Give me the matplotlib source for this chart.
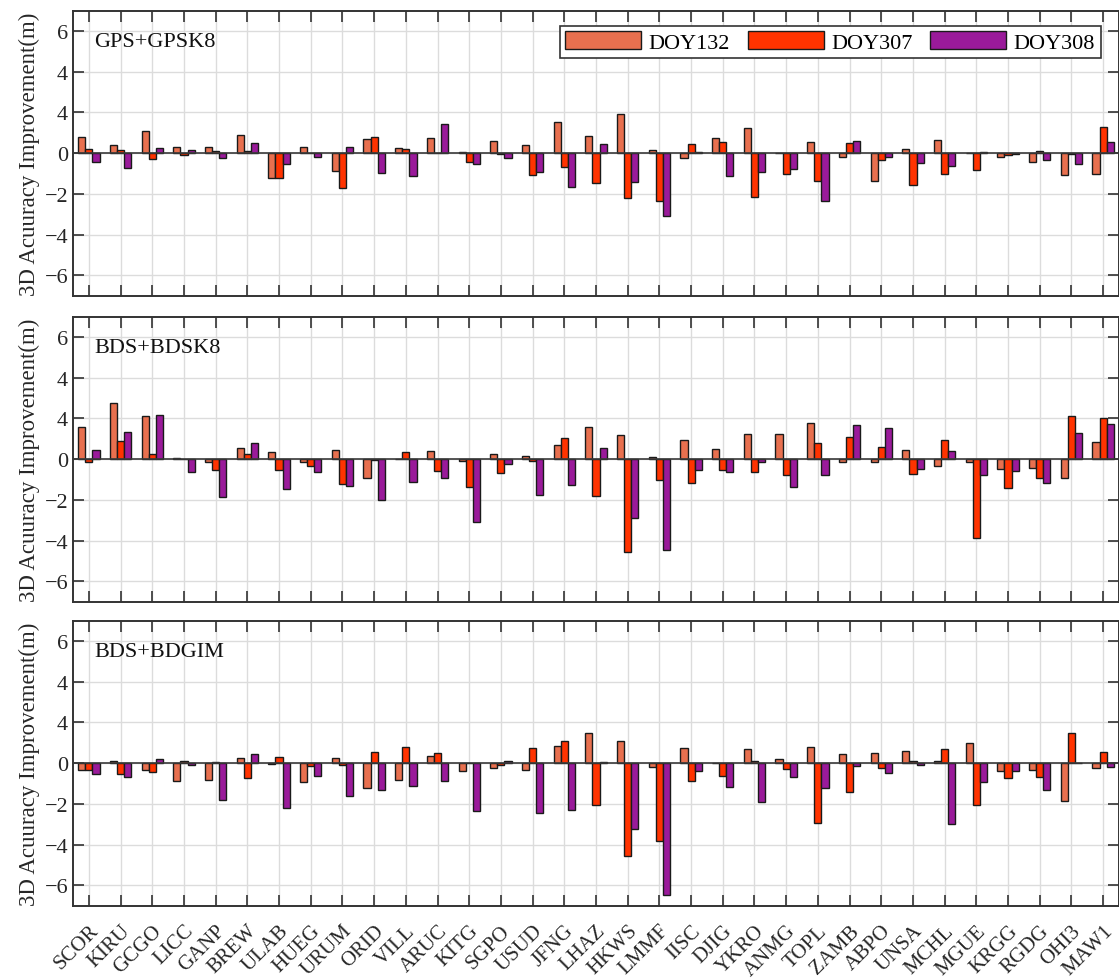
import numpy as np
import matplotlib
matplotlib.use('Agg')
import matplotlib.pyplot as plt

plt.rcParams['font.family'] = ['Liberation Serif', 'DejaVu Serif']

stations = ['SCOR', 'KIRU', 'GCGO', 'LICC', 'GANP', 'BREW', 'ULAB', 'HUEG', 'URUM',
            'ORID', 'VILL', 'ARUC', 'KITG', 'SGPO', 'USUD', 'JFNG', 'LHAZ', 'HKWS',
            'LMMF', 'IISC', 'DJIG', 'YKRO', 'ANMG', 'TOPL', 'ZAMB', 'ABPO', 'UNSA',
            'MCHL', 'MGUE', 'KRGG', 'RGDG', 'OHI3', 'MAW1']

days = ['DOY132', 'DOY307', 'DOY308']
panel_names = ['GPS+GPSK8', 'BDS+BDSK8', 'BDS+BDGIM']

# GPS+GPSK8
gps_k8_132 = [0.79, 0.38, 1.08, 0.31, 0.30, 0.90, -1.23, 0.30, -0.87, 0.71, 0.28,
              0.74, 0.07, 0.59, 0.38, 1.51, 0.84, 1.95, 0.16, -0.23, 0.76, 1.25,
              0.03, 0.54, -0.18, -1.35, 0.21, 0.66, 0.02, -0.21, -0.44, -1.08, -1.03]
gps_k8_307 = [0.21, 0.16, -0.30, -0.07, 0.10, 0.13, -1.20, 0.03, -1.69, 0.79, 0.21,
              0.0, -0.44, -0.05, -1.07, -0.69, -1.48, -2.20, -2.33, 0.46, 0.54, -2.15,
              -1.03, -1.36, 0.51, -0.33, -1.56, -1.02, -0.82, -0.08, 0.13, -0.03, 1.31]
gps_k8_308 = [-0.44, -0.72, 0.28, 0.15, -0.23, 0.48, -0.53, -0.21, 0.30, -0.99, -1.10,
              1.41, -0.54, -0.26, -0.90, -1.66, 0.43, -1.40, -3.09, 0.07, -1.10, -0.94,
              -0.79, -2.35, 0.61, -0.21, -0.48, -0.61, 0.05, -0.05, -0.31, -0.53, 0.54]

# BDS+BDSK8
bds_k8_132 = [1.56, 2.77, 2.10, 0.05, -0.13, 0.54, 0.33, -0.15, 0.43, -0.93, 0.0,
              0.41, -0.11, 0.28, 0.15, 0.72, 1.59, 1.20, 0.11, 0.93, 0.52, 1.26,
              1.25, 1.79, -0.13, -0.13, 0.44, -0.31, -0.15, -0.46, -0.43, -0.90, 0.85]
bds_k8_307 = [-0.13, 0.90, 0.25, 0.0, -0.52, 0.26, -0.54, -0.33, -1.23, -0.03, 0.33,
              -0.57, -1.39, -0.69, -0.11, 1.03, -1.82, -4.56, -1.02, -1.16, -0.52, -0.64,
              -0.79, 0.79, 1.10, 0.62, -0.74, 0.95, -3.87, -1.41, -0.93, 2.11, 2.00]
bds_k8_308 = [0.43, 1.33, 2.16, -0.64, -1.84, 0.82, -1.48, -0.64, -1.33, -2.02, -1.10,
              -0.93, -3.10, -0.25, -1.75, -1.25, 0.54, -2.90, -4.44, -0.52, -0.64, -0.13,
              -1.36, -0.79, 1.66, 1.51, -0.48, 0.39, -0.77, -0.57, -1.15, 1.30, 1.72]

# BDS+BDGIM
bds_gim_132 = [-0.34, 0.11, -0.31, -0.87, -0.84, 0.28, -0.05, -0.90, 0.25, -1.21, -0.82,
               0.36, -0.39, -0.23, -0.31, 0.85, 1.49, 1.07, -0.21, 0.77, 0.0, 0.70,
               0.20, 0.82, 0.43, 0.48, 0.62, 0.11, 0.97, -0.38, -0.34, -1.87, -0.26]
bds_gim_307 = [-0.34, -0.54, -0.43, 0.13, 0.07, -0.72, 0.30, -0.15, -0.10, 0.54, 0.82,
               0.51, 0.0, -0.10, 0.77, 1.11, -2.07, -4.57, -3.80, -0.85, -0.62, 0.10,
               -0.30, -2.93, -1.43, -0.23, 0.11, 0.69, -2.05, -0.74, -0.66, 1.46, 0.56]
bds_gim_308 = [-0.54, -0.67, 0.23, -0.11, -1.79, 0.44, -2.18, -0.62, -1.61, -1.33, -1.13,
               -0.89, -2.33, 0.11, -2.43, -2.30, 0.05, -3.21, -6.48, -0.36, -1.16, -1.93,
               -0.67, -1.20, -0.15, -0.48, -0.11, -2.98, -0.93, -0.36, -1.33, 0.0, -0.18]

yticks = [-6, -4, -2, 0, 2, 4, 6]
ytick_labels = ['\u22126', '\u22124', '\u22122', '0', '4', '4', '6']

colors = ['#E8704F', '#FF3300', '#9A1A9A']

panels = [
    [gps_k8_132, gps_k8_307, gps_k8_308],
    [bds_k8_132, bds_k8_307, bds_k8_308],
    [bds_gim_132, bds_gim_307, bds_gim_308],
]

fig = plt.figure(figsize=(11.19, 9.79), dpi=100)

left = 73 / 1119
width = 1 - left
bottoms = [1 - 296.7 / 979, 1 - 602.7 / 979, 1 - 906.7 / 979]
height = 285 / 979

x = np.arange(1, len(stations) + 1)
bw = 0.225
offsets = [-bw, 0, bw]

for p, series in enumerate(panels):
    ax = fig.add_axes([left, bottoms[p], width, height])
    ax.set_axisbelow(True)
    for k in range(3):
        ax.bar(x + offsets[k], series[k], bw, color=colors[k],
               edgecolor='#1a1a1a', linewidth=1.0, label=days[k], zorder=3)
    ax.axhline(0, color='#3a3a3a', linewidth=1.2, zorder=4)

    ax.set_xlim(0.5, len(stations) + 0.5)
    ax.set_ylim(-7, 7)
    ax.set_yticks(yticks)
    ax.set_yticklabels(ytick_labels, fontsize=16, color='#262626')
    ax.set_xticks(x)
    if p == 2:
        ax.set_xticklabels(stations, rotation=45, ha='right', rotation_mode='anchor',
                           fontsize=15, color='#262626')
    else:
        ax.set_xticklabels([])
    ax.tick_params(direction='in', length=8, width=1.2, top=True, right=True,
                   color='#333333')
    ax.tick_params(axis='x', pad=11)
    ax.grid(True, color='#dcdcdc', linewidth=1.0)
    for s in ax.spines.values():
        s.set_color('#333333')
        s.set_linewidth(1.4)

    ax.set_ylabel('3D Acuuracy Improvement(m)', fontsize=16.5, color='#262626',
                  labelpad=3)
    ax.text(0.02, 0.892, panel_names[p], transform=ax.transAxes, fontsize=16,
            va='center', ha='left', color='#111111')

    if p == 0:
        leg = ax.legend(loc='upper right', bbox_to_anchor=(0.9825, 0.948), ncol=3,
                        fontsize=16, handlelength=3.4, handleheight=0.85,
                        columnspacing=0.8, handletextpad=0.35, borderpad=0.25,
                        borderaxespad=0, fancybox=False, framealpha=1)
        leg.get_frame().set_edgecolor('#333333')
        leg.get_frame().set_linewidth(1.2)
        for h in leg.legend_handles:
            h.set_edgecolor('#1a1a1a')

plt.savefig('out.png', dpi=100)
